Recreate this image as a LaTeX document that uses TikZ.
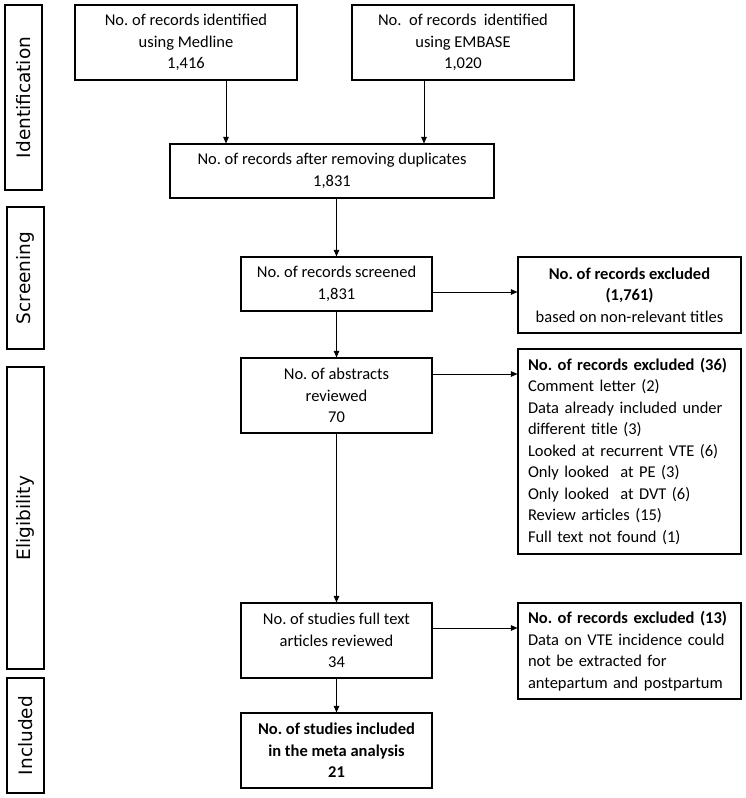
\documentclass[tikz,border=0pt]{standalone}
\usepackage{fontspec}
\setmainfont{Carlito}
\newfontfamily\sidefont{DejaVu Sans}
\usetikzlibrary{arrows.meta}
\frenchspacing
\begin{document}
\frenchspacing
\begin{tikzpicture}[x=1pt,y=-1pt,
  box/.style={draw, line width=1.1pt, inner sep=0pt, align=center,
    font=\frenchspacing\fontsize{16.5}{21.5}\selectfont},
  mainbox/.style={box, minimum width=191pt, minimum height=75pt},
  exbox/.style={box, minimum width=223pt},
  leftbox/.style={exbox, text width=203pt, align=left},
  side/.style={draw, line width=1.1pt, inner sep=0pt, minimum width=37pt},
  sidetext/.style={rotate=90, font=\sidefont\fontsize{18.5}{20}\selectfont},
  arr/.style={line width=0.9pt, -{Triangle[length=6.5pt,width=5.5pt]}}]
\useasboundingbox (0,0) rectangle (745,798);
% side boxes
\node[side, minimum height=185pt] (s1) at (23.5,97.5) {};
\node[sidetext] (t1) at (s1.center) {Identification};
\node[side, minimum height=142pt] (s2) at (25.5,278) {};
\node[sidetext] (t2) at (s2.center) {Screening};
\node[side, minimum height=302pt] (s3) at (25.5,518) {};
\node[sidetext] (t3) at (s3.center) {Eligibility};
\node[side, minimum height=115pt] (s4) at (25.5,735.5) {};
\node[sidetext] (t4) at (s4.center) {Included};
% main boxes
\node[box, minimum width=222pt, minimum height=75pt] (med) at (186,42.5)
  {No. of records identified\\using Medline\\1,416};
\node[box, minimum width=222pt, minimum height=75pt] (emb) at (463,42.5)
  {No.\ \ of records\ \ identified\\using EMBASE\\1,020};
\node[box, minimum width=324pt, minimum height=54pt] (dup) at (332,171)
  {No. of records after removing duplicates\\1,831};
\node[mainbox, minimum height=54pt] (scr) at (336.5,284)
  {No. of records screened\\1,831};
\node[exbox, minimum height=76pt] (ex1) at (629.5,295)
  {\textbf{No. of records excluded}\\\textbf{(1,761)}\\based on non-relevant titles};
\node[mainbox] (abs) at (336.5,395.5)
  {No. of abstracts\\reviewed\\70};
\node[leftbox, minimum height=205pt] (ex2) at (629.5,451.5)
  {\textbf{No. of records excluded (36)}\\Comment letter (2)\\Data already included under\\different title (3)\\Looked at recurrent VTE (6)\\Only looked\ \ at PE (3)\\Only looked\ \ at DVT (6)\\Review articles (15)\\Full text not found (1)};
\node[mainbox] (ful) at (336.5,640.5)
  {No. of studies full text\\articles reviewed\\34};
\node[leftbox, minimum height=96pt] (ex3) at (629.5,651)
  {\textbf{No. of records excluded (13)}\\Data on VTE incidence could\\not be extracted for\\antepartum and postpartum};
\node[mainbox, font=\frenchspacing\fontsize{16.5}{21.5}\selectfont\bfseries] (inc) at (336.5,750.5)
  {No. of studies included\\in the meta analysis\\21};
% connectors
\draw[arr] ([xshift=40pt]med.south) -- ([xshift=40pt]med.south |- dup.north);
\draw[arr] ([xshift=-39pt]emb.south) -- ([xshift=-39pt]emb.south |- dup.north);
\draw[arr] (dup.south -| scr.north) -- (scr.north);
\draw[arr] (scr) -- (abs);
\draw[arr] (abs) -- (ful);
\draw[arr] (ful) -- (inc);
\draw[arr] ([yshift=-8pt]scr.east) -- ([yshift=-8pt]scr.east -| ex1.west);
\draw[arr] ([yshift=21.5pt]abs.east) -- ([yshift=21.5pt]abs.east -| ex2.west);
\draw[arr] ([yshift=12.5pt]ful.east) -- ([yshift=12.5pt]ful.east -| ex3.west);
\end{tikzpicture}
\end{document}
